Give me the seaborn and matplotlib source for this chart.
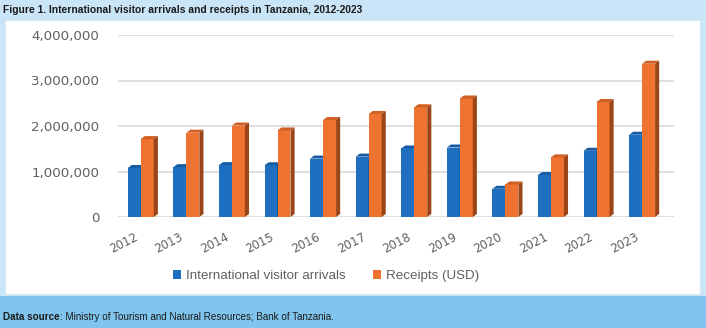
import matplotlib
matplotlib.use("Agg")
import matplotlib.pyplot as plt
from matplotlib.patches import Polygon, Rectangle, Patch
from matplotlib.transforms import ScaledTranslation
import seaborn as sns
import pandas as pd

years = ["2012", "2013", "2014", "2015", "2016", "2017", "2018", "2019", "2020", "2021", "2022", "2023"]
arrivals = [1077058, 1095884, 1140156, 1137182, 1284279, 1327143, 1505702, 1527230, 620867, 922692, 1454920, 1808205]
receipts = [1712700000, 1853300000, 2010100000, 1902000000, 2131600000, 2265000000,
            2412000000, 2604500000, 714600000, 1310300000, 2527800000, 3368700000]
receipts_scaled = [v / 1000 for v in receipts]  # plotted on same axis as shown
series_names = ["International visitor arrivals", "Receipts (USD)"]
yticks = [0, 1000000, 2000000, 3000000, 4000000]
ytick_labels = ["0", "1,000,000", "2,000,000", "3,000,000", "4,000,000"]

title = "Figure 1. International visitor arrivals and receipts in Tanzania, 2012-2023"
source_bold = "Data source"
source_rest = ": Ministry of Tourism and Natural Resources; Bank of Tanzania."

df = pd.DataFrame({
    "year": years * 2,
    "series": [series_names[0]] * len(years) + [series_names[1]] * len(years),
    "value": arrivals + receipts_scaled,
})

sns.set_theme(style="white")
plt.rcParams["font.family"] = ["DejaVu Sans"]

BLUE, BLUE_TOP, BLUE_SIDE = "#1f6fc0", "#175ca3", "#103f73"
ORANGE, ORANGE_TOP, ORANGE_SIDE = "#ee7230", "#cf5f22", "#9a4518"
GRAY = "#606060"
TXT_FONT = ["Liberation Sans", "DejaVu Sans"]

W, H = 706, 328
fig = plt.figure(figsize=(W / 100, H / 100), dpi=100)
fig.patch.set_facecolor("#c9e5f7")

# panels
fig.add_artist(Rectangle((5 / W, (H - 294) / H), 695 / W, 274 / H, transform=fig.transFigure,
                         facecolor="white", edgecolor="#d8e8f2", lw=0.8, zorder=0))
fig.add_artist(Rectangle((0, 0), 1, (H - 296) / H, transform=fig.transFigure,
                         facecolor="#7fc5ed", edgecolor="none", zorder=0))

ax = fig.add_axes([118 / W, (H - 217) / H, 556 / W, 182 / H])
ax.set_facecolor("none")

sns.barplot(data=df, x="year", y="value", hue="series", order=years, hue_order=series_names,
            palette=[BLUE, ORANGE], width=0.57, dodge=True, ax=ax, legend=False,
            saturation=1, edgecolor="none", linewidth=0)

ax.set_xlim(-0.5, 11.7)
ax.set_ylim(0, 4000000)

dx = 0.09
dy = 4000000 * 3 / 182

n = len(years)
for i, p in enumerate(ax.patches[: 2 * n]):
    is_blue = i < n
    z = 2 if is_blue else 3
    p.set_zorder(z)
    x0 = p.get_x()
    x1 = x0 + p.get_width()
    h = p.get_height()
    top_c = BLUE_TOP if is_blue else ORANGE_TOP
    side_c = BLUE_SIDE if is_blue else ORANGE_SIDE
    ax.add_patch(Polygon([(x0, h), (x0 + dx, h + dy), (x1 + dx, h + dy), (x1, h)],
                         closed=True, facecolor=top_c, edgecolor="none", zorder=z + 0.1, clip_on=False))
    ax.add_patch(Polygon([(x1, 0), (x1 + dx, dy), (x1 + dx, h + dy), (x1, h)],
                         closed=True, facecolor=side_c, edgecolor="none", zorder=z + 0.1, clip_on=False))

ax.set_axisbelow(True)
ax.yaxis.grid(True, color="#d9d9d9", lw=1.2)
ax.xaxis.grid(False)
for s in ax.spines.values():
    s.set_visible(False)

ax.set_yticks(yticks)
ax.set_yticklabels(ytick_labels)
ax.tick_params(axis="y", length=0, pad=13.5, labelsize=9.6, labelcolor=GRAY)
ax.tick_params(axis="x", length=0, pad=14, labelsize=8.5, labelcolor=GRAY)
shift = ScaledTranslation(-4 / 100, 0, fig.dpi_scale_trans)
for lbl in ax.get_xticklabels():
    lbl.set_rotation(27)
    lbl.set_ha("right")
    lbl.set_va("center")
    lbl.set_rotation_mode("anchor")
    lbl.set_transform(lbl.get_transform() + shift)
ax.set_xlabel("")
ax.set_ylabel("")

handles = [Patch(facecolor=BLUE, edgecolor="none"), Patch(facecolor=ORANGE, edgecolor="none")]
fig.legend(handles, series_names, loc="center", bbox_to_anchor=(326 / W, (H - 276) / H),
           ncol=2, frameon=False, handlelength=0.6, handleheight=0.6, handletextpad=0.4,
           columnspacing=2.0, prop={"family": "Liberation Sans", "size": 9.6},
           labelcolor=GRAY)

fig.text(3 / W, (H - 10) / H, title, ha="left", va="center", fontsize=7.4, fontweight="bold",
         family=TXT_FONT, color="#1a1a1a")

t1 = fig.text(3 / W, (H - 317) / H, source_bold, ha="left", va="center", fontsize=7.1,
              fontweight="bold", family=TXT_FONT, color="#1a1a1a")
fig.canvas.draw()
bb = t1.get_window_extent()
fig.text(bb.x1 / W, (H - 317) / H, source_rest, ha="left", va="center", fontsize=7.1,
         family=TXT_FONT, color="#1a1a1a")

fig.savefig("out.png", dpi=100, facecolor=fig.get_facecolor())
